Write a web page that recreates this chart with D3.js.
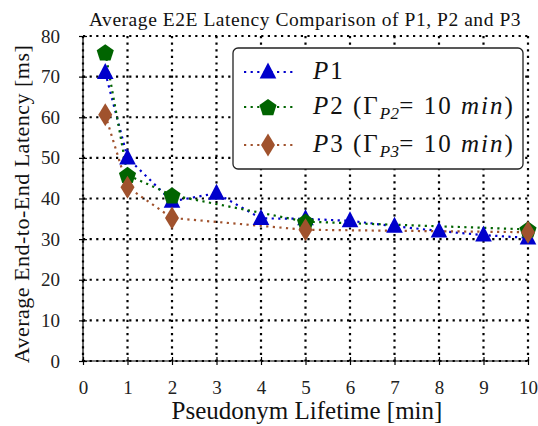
<!DOCTYPE html>
<html lang="en">
<head>
<meta charset="UTF-8">
<title>E2E Latency</title>
<script src="https://d3js.org/d3.v7.min.js"></script>
<style>
  body { margin: 0; background: #fff; }
  svg { display: block; font-family: "Liberation Serif", "Times New Roman", serif; }
</style>
</head>
<body>
<svg id="chart" width="538" height="426"></svg>
<script>
// data
const p1X = [0.5, 1, 2, 3, 4, 5, 6, 7, 8, 9, 10];
const p1Y = [71, 50, 39.3, 41.3, 35.1, 35, 34.5, 33.2, 32, 31, 30.3];
const p2X = [0.5, 1, 2, 5, 10];
const p2Y = [76, 45.8, 40.8, 34.3, 32.4];
const p3X = [0.5, 1, 2, 5, 10];
const p3Y = [60.6, 42.8, 35.2, 32.3, 31.7];
const xTicks = [0, 1, 2, 3, 4, 5, 6, 7, 8, 9, 10];
const yTicks = [0, 10, 20, 30, 40, 50, 60, 70, 80];

const svg = d3.select("#chart");
const mLeft = 83, mRight = 528, mTop = 36, mBottom = 361;

const x = d3.scaleLinear().domain([0, 10]).range([mLeft, mRight]);
const y = d3.scaleLinear().domain([0, 80]).range([mBottom, mTop]);

// grid
const dots = "2.2,4.4";
const grid = svg.append("g");
grid.selectAll("line.gx").data(xTicks).enter().append("line")
  .attr("x1", d => x(d)).attr("x2", d => x(d))
  .attr("y1", mTop).attr("y2", mBottom)
  .attr("stroke", "#000").attr("stroke-width", 2.2).attr("stroke-dasharray", dots);
grid.selectAll("line.gy").data(yTicks).enter().append("line")
  .attr("x1", mLeft).attr("x2", mRight)
  .attr("y1", d => y(d)).attr("y2", d => y(d))
  .attr("stroke", "#000").attr("stroke-width", 2.2).attr("stroke-dasharray", dots);

// axes
svg.append("line").attr("x1", mLeft).attr("x2", mLeft).attr("y1", mTop).attr("y2", mBottom)
  .attr("stroke", "#000").attr("stroke-width", 1.2);
svg.append("line").attr("x1", mLeft).attr("x2", mRight).attr("y1", mBottom).attr("y2", mBottom)
  .attr("stroke", "#000").attr("stroke-width", 1.2);

const xAxis = svg.append("g").attr("transform", `translate(0,${mBottom})`)
  .call(d3.axisBottom(x).tickValues(xTicks).tickSize(4).tickPadding(16).tickFormat(d3.format("d")));
xAxis.select(".domain").remove();
xAxis.selectAll(".tick line").attr("y1", -4).attr("y2", 4).attr("stroke-width", 1.2);
xAxis.selectAll("text").attr("font-size", 19).attr("font-family", "Liberation Serif, serif").attr("fill", "#222");

const yAxis = svg.append("g").attr("transform", `translate(${mLeft},0)`)
  .call(d3.axisLeft(y).tickValues(yTicks).tickSize(4).tickPadding(19).tickFormat(d3.format("d")));
yAxis.select(".domain").remove();
yAxis.selectAll(".tick line").attr("x1", -4).attr("x2", 4).attr("stroke-width", 1.2);
yAxis.selectAll("text").attr("font-size", 19).attr("font-family", "Liberation Serif, serif").attr("fill", "#222");

// markers
function pentagon(r) {
  const pts = d3.range(5).map(i => {
    const a = -Math.PI / 2 + i * 2 * Math.PI / 5;
    return [r * Math.cos(a), r * Math.sin(a) + r * 0.1];
  });
  return "M" + pts.join("L") + "Z";
}
const shapes = {
  tri: "M0,-9.5L8.3,6.5L-8.3,6.5Z",
  pent: pentagon(9),
  dia: "M0,-11.5L7,0L0,11.5L-7,0Z"
};

const series = [
  { xs: p1X, ys: p1Y, color: "#0000cc", shape: "tri" },
  { xs: p2X, ys: p2Y, color: "#006400", shape: "pent" },
  { xs: p3X, ys: p3Y, color: "#a0522d", shape: "dia" }
];

const line = d3.line().x(d => x(d[0])).y(d => y(d[1]));
series.forEach(s => {
  const pts = s.xs.map((v, i) => [v, s.ys[i]]);
  svg.append("path").datum(pts).attr("d", line)
    .attr("fill", "none").attr("stroke", s.color).attr("stroke-width", 2.2)
    .attr("stroke-dasharray", dots);
});
series.forEach(s => {
  const pts = s.xs.map((v, i) => [v, s.ys[i]]);
  svg.selectAll(null).data(pts).enter().append("path")
    .attr("d", shapes[s.shape])
    .attr("transform", d => `translate(${x(d[0])},${y(d[1])})`)
    .attr("fill", s.color);
});

// legend
const lg = svg.append("g");
lg.append("rect").attr("x", 233).attr("y", 48).attr("width", 290).attr("height", 121)
  .attr("rx", 5).attr("fill", "#fff").attr("stroke", "#222").attr("stroke-width", 1.3);
const legendRows = [
  { y: 72, s: series[0], parts: [["P", "it"], ["1", ""]] },
  { y: 107, s: series[1], parts: [["P", "it"], ["2 (Γ", ""], ["P2", "sub"], ["= 10 ", ""], ["min", "it"], [")", ""]] },
  { y: 145, s: series[2], parts: [["P", "it"], ["3 (Γ", ""], ["P3", "sub"], ["= 10 ", ""], ["min", "it"], [")", ""]] }
];
legendRows.forEach(r => {
  lg.append("line").attr("x1", 244).attr("x2", 294).attr("y1", r.y).attr("y2", r.y)
    .attr("stroke", r.s.color).attr("stroke-width", 2.2).attr("stroke-dasharray", dots);
  lg.append("path").attr("d", shapes[r.s.shape]).attr("transform", `translate(268,${r.y})`)
    .attr("fill", r.s.color);
  const t = lg.append("text").attr("x", 313).attr("y", r.y + 7).attr("font-size", 25)
    .attr("letter-spacing", 2).attr("fill", "#111");
  r.parts.forEach(p => {
    const ts = t.append("tspan").text(p[0]);
    if (p[1] === "it") ts.attr("font-style", "italic");
    if (p[1] === "sub") ts.attr("font-style", "italic").attr("font-size", 17).attr("dy", 5).attr("letter-spacing", 0.3);
    if (p[0].startsWith("= ")) ts.attr("dy", -5);
  });
});

// title and axis labels
svg.append("text").attr("x", 305).attr("y", 26).attr("text-anchor", "middle")
  .attr("font-size", 19.5).attr("letter-spacing", 0.55).attr("fill", "#111")
  .text("Average E2E Latency Comparison of P1, P2 and P3");
svg.append("text").attr("x", 307).attr("y", 419).attr("text-anchor", "middle")
  .attr("font-size", 25).attr("fill", "#111")
  .text("Pseudonym Lifetime [min]");
svg.append("text").attr("transform", "translate(29,204) rotate(-90)").attr("text-anchor", "middle")
  .attr("font-size", 22).attr("letter-spacing", 0.5).attr("fill", "#111")
  .text("Average End-to-End Latency [ms]");
</script>
</body>
</html>
